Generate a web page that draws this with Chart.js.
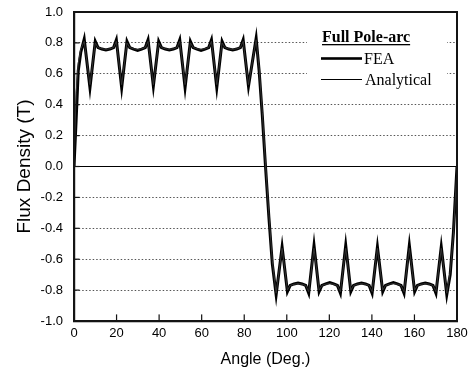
<!DOCTYPE html>
<html>
<head>
<meta charset="utf-8">
<script src="https://cdn.jsdelivr.net/npm/chart.js@4.4.1/dist/chart.umd.min.js"></script>
<style>
  html, body { margin: 0; padding: 0; background: #fff; }
</style>
</head>
<body>
<canvas id="fluxChart" width="469" height="374"></canvas>
<script>
// air-gap flux density over one pole pair (deg)
const angles = [
  0, 1.0, 2.0, 3.2, 4.8,
  7.5, 10.0, 11.3, 13.1, 15.0, 16.9, 18.6, 19.9,
  22.4, 24.9, 26.2, 28.0, 29.9, 31.8, 33.5, 34.8,
  37.3, 39.8, 41.1, 42.9, 44.8, 46.7, 48.4, 49.7,
  52.2, 54.7, 56.0, 57.8, 59.7, 61.6, 63.3, 64.6,
  67.1, 69.6, 70.9, 72.7, 74.6, 76.5, 78.2, 79.5,
  82.0,
  85.6, 87.0, 88.5, 90.0, 91.6, 93.2, 95.0,
  97.8, 100.3, 101.6, 103.4, 105.3, 107.2, 108.9, 110.3,
  112.8, 115.2, 116.5, 118.3, 120.2, 122.1, 123.8, 125.2,
  127.7, 130.1, 131.4, 133.2, 135.1, 137.0, 138.7, 140.1,
  142.6, 145.1, 146.4, 148.2, 150.1, 152.0, 153.7, 155.1,
  157.6, 160.1, 161.4, 163.2, 165.1, 167.0, 168.7, 170.1,
  172.6,
  175.2, 176.8, 178.3, 180.0
];

const feaFlux = [
  0.00, 0.30, 0.62, 0.74, 0.825,
  0.51, 0.81, 0.77, 0.76, 0.755, 0.76, 0.77, 0.82,
  0.51, 0.81, 0.77, 0.76, 0.752, 0.76, 0.77, 0.82,
  0.52, 0.81, 0.77, 0.76, 0.755, 0.76, 0.77, 0.82,
  0.51, 0.81, 0.77, 0.76, 0.752, 0.76, 0.77, 0.82,
  0.51, 0.81, 0.77, 0.76, 0.755, 0.76, 0.77, 0.82,
  0.52,
  0.83, 0.62, 0.33, 0.00, -0.33, -0.63, -0.83,
  -0.52, -0.81, -0.77, -0.76, -0.755, -0.76, -0.77, -0.82,
  -0.51, -0.81, -0.77, -0.76, -0.752, -0.76, -0.77, -0.82,
  -0.51, -0.81, -0.77, -0.76, -0.755, -0.76, -0.77, -0.82,
  -0.52, -0.81, -0.77, -0.76, -0.752, -0.76, -0.77, -0.82,
  -0.51, -0.81, -0.77, -0.76, -0.755, -0.76, -0.77, -0.82,
  -0.52,
  -0.83, -0.70, -0.43, 0.00
];

const analyticalFlux = [
  0.00, 0.48, 0.67, 0.76, 0.81,
  0.53, 0.80, 0.77, 0.762, 0.758, 0.762, 0.77, 0.81,
  0.53, 0.80, 0.77, 0.762, 0.758, 0.762, 0.77, 0.81,
  0.53, 0.80, 0.77, 0.762, 0.758, 0.762, 0.77, 0.81,
  0.53, 0.80, 0.77, 0.762, 0.758, 0.762, 0.77, 0.81,
  0.53, 0.80, 0.77, 0.762, 0.758, 0.762, 0.77, 0.81,
  0.53,
  0.82, 0.64, 0.35, 0.02, -0.31, -0.61, -0.82,
  -0.53, -0.80, -0.77, -0.762, -0.758, -0.762, -0.77, -0.81,
  -0.53, -0.80, -0.77, -0.762, -0.758, -0.762, -0.77, -0.81,
  -0.53, -0.80, -0.77, -0.762, -0.758, -0.762, -0.77, -0.81,
  -0.53, -0.80, -0.77, -0.762, -0.758, -0.762, -0.77, -0.81,
  -0.53, -0.80, -0.77, -0.762, -0.758, -0.762, -0.77, -0.81,
  -0.53,
  -0.82, -0.68, -0.45, 0.00
];

const xTicks = [0, 20, 40, 60, 80, 100, 120, 140, 160, 180];
const yTicks = [-1.0, -0.8, -0.6, -0.4, -0.2, 0.0, 0.2, 0.4, 0.6, 0.8, 1.0];

const legendTitle = "Full Pole-arc";
const seriesNames = ["FEA", "Analytical"];

const toPoints = (ys) => angles.map((a, i) => ({ x: a, y: ys[i] }));
const isZero = (v) => Math.abs(v) < 1e-9;

// keep the plot box fixed: no extra room for overhanging edge labels
const fixX = (h) => (s) => { s.height = h; s.paddingLeft = 0; s.paddingRight = 0; };
const fixY = (w) => (s) => { s.width = w; s.paddingTop = 0; s.paddingBottom = 0; };

// box, inward ticks and the boxed legend
const framePlugin = {
  id: "frame",
  beforeDatasetsDraw(chart) {
    const ctx = chart.ctx;
    ctx.save();
    ctx.fillStyle = "#fff";
    ctx.fillRect(307, 28, 140, 66);
    ctx.restore();
  },
  afterDraw(chart) {
    const ctx = chart.ctx;
    const a = chart.chartArea;
    const xs = chart.scales.x, ys = chart.scales.y;
    ctx.save();
    ctx.strokeStyle = "#141414";
    ctx.lineWidth = 2;
    ctx.strokeRect(a.left, a.top, a.right - a.left, a.bottom - a.top);

    ctx.lineWidth = 1.2;
    xTicks.forEach((v) => {
      const px = xs.getPixelForValue(v);
      ctx.strokeRect(px, a.bottom - 6, 0.01, 6);
    });
    yTicks.forEach((v) => {
      const py = ys.getPixelForValue(v);
      ctx.strokeRect(a.left, py, 5, 0.01);
    });

    // legend
    ctx.fillStyle = "#000";
    ctx.textBaseline = "alphabetic";
    ctx.textAlign = "left";
    ctx.font = "bold 16px 'Liberation Serif'";
    ctx.fillText(legendTitle, 322, 42);
    const tw = ctx.measureText(legendTitle).width;
    ctx.fillRect(322, 44, tw, 1.3);
    ctx.fillRect(321, 57.2, 41, 2.6);
    ctx.fillRect(321, 79, 41, 1);

    ctx.font = "16px 'Liberation Serif'";
    ctx.fillText(seriesNames[0], 364, 64);
    ctx.fillText(seriesNames[1], 365, 85);
    ctx.restore();
  }
};

const fluxChart = document.getElementById("fluxChart");

new Chart(fluxChart, {
  type: "line",
  data: {
    datasets: [
      {
        label: seriesNames[0],
        data: toPoints(feaFlux),
        borderColor: "#000",
        borderWidth: 3,
        order: 2,
      },
      {
        label: seriesNames[1],
        data: toPoints(analyticalFlux),
        borderColor: "#333",
        borderWidth: 1,
        order: 1,
      },
    ],
  },
  options: {
    responsive: false,
    animation: false,
    layout: { padding: { top: 12, right: 12, left: 0, bottom: 0 } },
    elements: {
      point: { radius: 0 },
      line: { tension: 0, borderJoinStyle: "miter" },
    },
    plugins: {
      legend: { display: false },
      tooltip: { enabled: false },
    },
    scales: {
      x: {
        type: "linear",
        min: 0,
        max: 180,
        afterFit: fixX(53),
        afterBuildTicks: (s) => { s.ticks = xTicks.map((v) => ({ value: v })); },
        ticks: {
          color: "#000",
          padding: 5,
          maxRotation: 0,
          font: { family: "'Liberation Sans'", size: 13 },
        },
        grid: { display: false, drawTicks: false },
        border: { display: true, color: "#000", width: 2.2 },
        title: {
          display: true,
          text: "Angle (Deg.)",
          color: "#000",
          font: { family: "'Liberation Sans'", size: 16 },
          padding: { top: 0, bottom: 5 },
        },
      },
      y: {
        min: -1,
        max: 1,
        afterFit: fixY(74),
        afterBuildTicks: (s) => { s.ticks = yTicks.map((v) => ({ value: v })); },
        ticks: {
          color: "#000",
          padding: 11,
          font: { family: "'Liberation Sans'", size: 13 },
          callback: (v) => (isZero(v) ? "0.0" : Number(v).toFixed(1)),
        },
        grid: {
          drawTicks: false,
          lineWidth: 1,
          color: (c) => (c.tick && isZero(c.tick.value) ? "#000" : "#555"),
        },
        border: {
          display: true,
          color: "#000",
          width: 2.2,
          dash: (c) => (c.tick && !isZero(c.tick.value) ? [1.5, 2] : []),
        },
        title: {
          display: true,
          text: "Flux Density (T)",
          color: "#000",
          font: { family: "'Liberation Sans'", size: 19 },
          padding: { top: 13, bottom: 0 },
        },
      },
    },
  },
  plugins: [framePlugin],
});
</script>
</body>
</html>
